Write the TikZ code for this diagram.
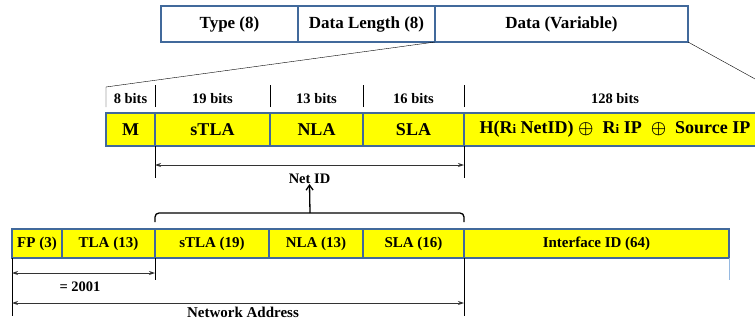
\documentclass[tikz,border=0pt]{standalone}
\usepackage{fontspec}
\setmainfont{Liberation Serif}
\usepackage{amssymb}
\usetikzlibrary{arrows.meta}
\definecolor{fieldblue}{RGB}{65,105,155}
\definecolor{fieldyellow}{RGB}{255,255,0}
\definecolor{lightedge}{RGB}{150,185,225}

\begin{document}
\begin{tikzpicture}[x=1pt,y=-1pt,
    field/.style={draw=fieldblue,line width=1.5pt,inner sep=0pt,outer sep=0pt,anchor=west},
    hdr/.style={field,fill=white,minimum height=36pt,font=\bfseries\fontsize{17}{17}\selectfont},
    mid/.style={field,fill=fieldyellow,minimum height=33pt,font=\bfseries\fontsize{18}{18}\selectfont},
    low/.style={field,fill=fieldyellow,minimum height=29pt,font=\bfseries\fontsize{15}{15}\selectfont},
    bits/.style={inner sep=0pt,font=\bfseries\fontsize{14.5}{14.5}\selectfont},
    span/.style={{Stealth[length=6pt,width=4pt]}-{Stealth[length=6pt,width=4pt]},black!80,line width=0.9pt}]
    \useasboundingbox (0,0) rectangle (755,321);
    \clip (0,0) rectangle (755,321);

    % packet header
    \node[hdr,minimum width=137pt] (type) at (161,24) {Type (8)};
    \node[hdr,minimum width=137pt] (dlen) at (type.east) {Data Length (8)};
    \node[hdr,minimum width=253pt] (data) at (dlen.east) {Data (Variable)};

    % data field
    \node[mid,minimum width=49pt] (m) at (106,129.5) {M};
    \node[mid,minimum width=115pt] (stla) at (m.east) {sTLA};
    \node[mid,minimum width=93pt] (nla) at (stla.east) {NLA};
    \node[mid,minimum width=101pt] (sla) at (nla.east) {SLA};
    \node[mid,minimum width=302pt] (hash) at (sla.east)
        {H(R{\fontsize{13}{13}\selectfont i} NetID) {\boldmath$\oplus$}\ \ R{\fontsize{13}{13}\selectfont i} IP\ \ {\boldmath$\oplus$}\ \ Source IP};
    \foreach \f/\b in {m/8,stla/19,nla/13,sla/16,hash/128}
        \node[bits] (bits\f) at ([yshift=30.5pt]\f.center) {\b{} bits};
    \foreach \f in {stla,nla,sla,hash}
        \draw[thin] ([yshift=6pt]\f.north west) -- ([yshift=28pt]\f.north west);
    \coordinate (zl) at ([yshift=26pt]m.north west);
    \coordinate (zr) at ([yshift=28pt]hash.north east);
    \draw[thin] (dlen.south east) -- (zl) -- ([yshift=6pt]m.north west);
    \draw[thin] (data.south east) -- (zr);

    % address
    \node[low,minimum width=50pt] (fp) at (12,243.5) {FP (3)};
    \node[low,minimum width=93pt] (tla) at (fp.east) {TLA (13)};
    \node[low,minimum width=114pt] (stlab) at (tla.east) {sTLA (19)};
    \node[low,minimum width=94pt] (nlab) at (stlab.east) {NLA (13)};
    \node[low,minimum width=101pt] (slab) at (nlab.east) {SLA (16)};
    \node[low,minimum width=265pt] (iid) at (slab.east) {Interface ID (64)};

    % net id
    \draw[thin] (stla.south west) -- ++(0,32);
    \draw[thin] (sla.south east) -- ++(0,32);
    \draw[span] ([yshift=-19pt]stla.south west) -- ([yshift=-19pt]sla.south east);
    \node[bits] (netid) at (309.5,179) {Net ID};
    \coordinate (bl) at ([yshift=7pt]stlab.north west);
    \coordinate (br) at ([yshift=7pt]slab.north east);
    \coordinate (bt) at (310,213);
    \draw[line width=1.3pt,rounded corners=4pt] (bl) |- (bt) -| (br);
    \draw[line width=1.3pt,-{Straight Barb[length=5pt,width=7pt]}] (bt) -- (netid.south);

    % prefix and network address
    \draw[thin] (fp.south west) -- ++(0,58);
    \draw[thin] (tla.south east) -- ++(0,22);
    \draw[thin] (slab.south east) -- ++(0,58);
    \draw[lightedge,line width=1pt] (iid.south east) -- ++(0,22);
    \draw[span] ([yshift=-15pt]fp.south west) -- ([yshift=-15pt]tla.south east);
    \node[bits] (prefix) at (80,287) {= 2001};
    \draw[span] ([yshift=-45pt]fp.south west) -- ([yshift=-45pt]slab.south east);
    \node[bits,font=\bfseries\fontsize{15}{15}\selectfont] (netaddr) at (243,312.5) {Network Address};
\end{tikzpicture}
\end{document}
